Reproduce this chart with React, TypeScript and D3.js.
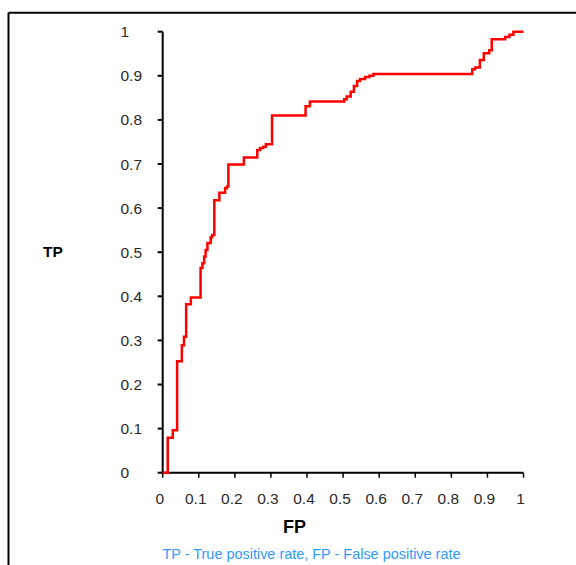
import React from 'react';
import * as d3 from 'd3';

// ROC points (false positive rate, true positive rate)
const fpRate = [
  0, 0.014, 0.028, 0.04, 0.053, 0.059, 0.065, 0.078, 0.105, 0.11, 0.115, 0.119,
  0.124, 0.133, 0.137, 0.143, 0.157, 0.173, 0.178, 0.182, 0.225, 0.262, 0.27,
  0.279, 0.286, 0.303, 0.396, 0.408, 0.503, 0.51, 0.521, 0.53, 0.539, 0.547,
  0.561, 0.573, 0.584, 0.858, 0.866, 0.879, 0.89, 0.905, 0.912, 0.949, 0.961,
  0.972, 1.0,
];
const tpRate = [
  0, 0.079, 0.096, 0.253, 0.289, 0.308, 0.382, 0.397, 0.464, 0.475, 0.49, 0.505,
  0.521, 0.534, 0.539, 0.618, 0.635, 0.645, 0.649, 0.699, 0.715, 0.732, 0.736,
  0.739, 0.745, 0.81, 0.831, 0.842, 0.847, 0.853, 0.864, 0.877, 0.888, 0.893,
  0.897, 0.9, 0.904, 0.915, 0.919, 0.936, 0.951, 0.958, 0.983, 0.988, 0.993,
  1.0, 1.0,
];
const tickValues = [0, 0.1, 0.2, 0.3, 0.4, 0.5, 0.6, 0.7, 0.8, 0.9, 1];
const xTitle = 'FP';
const yTitle = 'TP';
const caption = 'TP - True positive rate, FP - False positive rate';

const W = 576;
const H = 565;
const narrow = '"Liberation Sans Narrow", "Liberation Sans", Arial, sans-serif';
const sans = '"Liberation Sans", Arial, sans-serif';

export default function App() {
  const x = d3.scaleLinear().domain([0, 1]).range([162.7, 523.5]);
  const y = d3.scaleLinear().domain([0, 1]).range([472.7, 31.7]);

  const points = fpRate.map((fp, i) => [fp, tpRate[i]] as [number, number]);
  const line = d3
    .line<[number, number]>()
    .x(d => x(d[0]))
    .y(d => y(d[1]))
    .curve(d3.curveStepAfter);

  const fmt = (v: number) => (v === 0 ? '0' : v === 1 ? '1' : String(v));

  return (
    <svg
      width={W}
      height={H}
      style={{ position: 'absolute', left: 0, top: 0, background: '#fff' }}
    >
      {/* frame */}
      <line x1={8.5} y1={12.8} x2={W} y2={12.8} stroke="#000" strokeWidth={2} />
      <line x1={8.5} y1={12.8} x2={8.5} y2={H} stroke="#000" strokeWidth={2} />

      {/* y axis */}
      <line x1={x(0)} y1={y(0)} x2={x(0)} y2={y(1)} stroke="#000" strokeWidth={2} />
      {tickValues.map(t => (
        <g key={'y' + t}>
          <line x1={x(0) - 5} x2={x(0)} y1={y(t)} y2={y(t)} stroke="#000" strokeWidth={2} />
          <text
            x={120.5}
            y={y(t) + 5.5}
            fontFamily={narrow}
            fontSize={15.5}
            fill="#2a2a2a"
          >
            {fmt(t)}
          </text>
        </g>
      ))}

      {/* x axis */}
      <line x1={x(0) - 1} y1={y(0)} x2={x(1)} y2={y(0)} stroke="#000" strokeWidth={2} />
      {tickValues.map(t => (
        <g key={'x' + t}>
          <line x1={x(t)} x2={x(t)} y1={y(0)} y2={y(0) + 5} stroke="#000" strokeWidth={1.5} />
          <text
            x={x(t) - 3}
            y={504}
            textAnchor="middle"
            fontFamily={narrow}
            fontSize={15.5}
            fill="#2a2a2a"
          >
            {fmt(t)}
          </text>
        </g>
      ))}

      {/* ROC curve */}
      <path d={line(points) || ''} fill="none" stroke="#ff0000" strokeWidth={2.5} />

      {/* titles */}
      <text x={43} y={257} fontFamily={sans} fontWeight="bold" fontSize={15.5} fill="#000">
        {yTitle}
      </text>
      <text x={283} y={533} fontFamily={sans} fontWeight="bold" fontSize={18} fill="#000">
        {xTitle}
      </text>
      <text
        x={162.5}
        y={559}
        fontFamily={sans}
        fontSize={14.5}
        fill="#3399ff"
        textLength={298}
        lengthAdjust="spacingAndGlyphs"
      >
        {caption}
      </text>
    </svg>
  );
}
